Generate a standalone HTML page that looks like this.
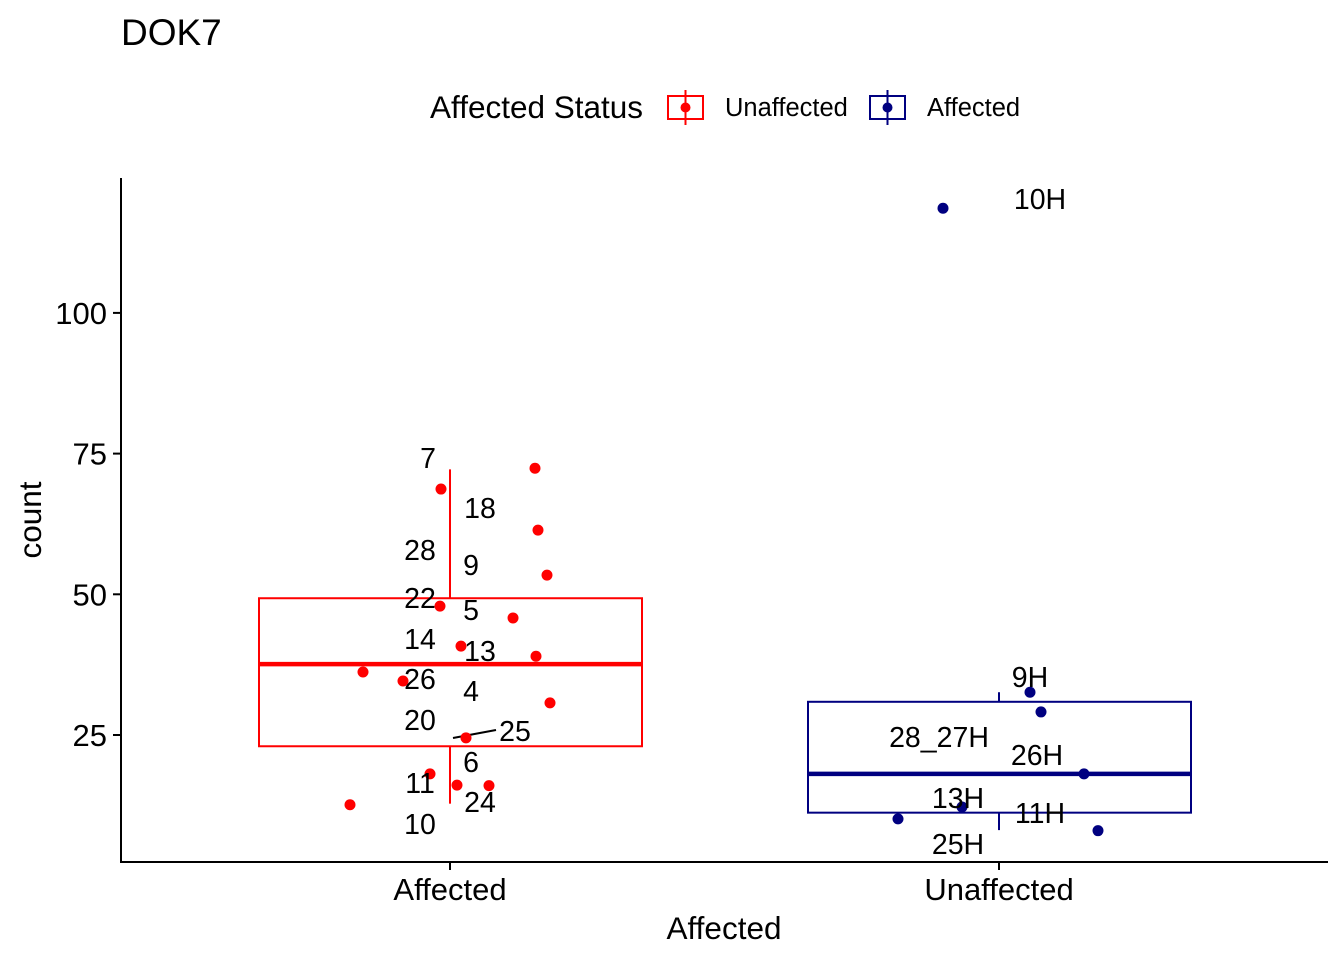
<!DOCTYPE html>
<html><head><meta charset="utf-8"><style>
body{margin:0;background:#fff}
svg{display:block;font-family:"Liberation Sans",Arial,sans-serif}
</style></head><body>
<svg id="c" width="1344" height="960">
<text x="121" y="45" font-size="37">DOK7</text>
<g>
<text x="430" y="118" font-size="31.5">Affected Status</text>
<g>
<rect x="668" y="96" width="35" height="23" fill="none" stroke="#f00" stroke-width="2"/>
<line x1="685.5" y1="90" x2="685.5" y2="125" stroke="#f00" stroke-width="2"/>
<circle cx="685.5" cy="107.5" r="5" fill="#f00"/>
<text x="725" y="116" font-size="25.5">Unaffected</text></g>
<g>
<rect x="870" y="96" width="35" height="23" fill="none" stroke="#000080" stroke-width="2"/>
<line x1="887.5" y1="90" x2="887.5" y2="125" stroke="#000080" stroke-width="2"/>
<circle cx="887.5" cy="107.5" r="5" fill="#000080"/>
<text x="927" y="116" font-size="25.5">Affected</text></g>
</g>
<line x1="121" y1="178" x2="121" y2="862" stroke="#000" stroke-width="2"/>
<line x1="120" y1="862" x2="1328" y2="862" stroke="#000" stroke-width="2"/>
<g id="ticks"></g>
<g id="marks"></g>
<text x="724" y="939" font-size="31.5" text-anchor="middle">Affected</text>
<text transform="translate(41,520) rotate(-90)" font-size="31.5" text-anchor="middle">count</text>
</svg>
<script>
const categories=["Affected","Unaffected"];
const yTicks=[25,50,75,100];
const boxColors=["#ff0000","#000080"];
const q1=[23.0,11.2];
const median=[37.6,18.1];
const q3=[49.3,30.9];
const whiskLo=[12.8,8.1];
const whiskHi=[72.2,32.6];
const redVals=[72.4,68.7,61.4,53.4,47.9,45.8,40.8,39.0,36.2,34.6,30.7,24.5,18.1,16.1,16.0,12.6];
const redJitter=[85,-9,88,97,-10,63,11,86,-87,-47,100,16,-20,7,39,-100];
const navyVals=[118.6,32.6,29.1,18.1,12.2,10.1,8.0];
const navyJitter=[-56,31,42,85,-37,-101,99];
const labels=[["7",428,468],["18",480,518],["28",420,560],["9",471,575],["22",420,608],["5",471,620],["14",420,649],["13",480,661],["26",420,689],["4",471,701],["20",420,730],["25",515,741],["6",471,772],["11",420,793],["24",480,812],["10",420,834],
["10H",1040,209],["9H",1030,687],["28_27H",939,747],["26H",1037,765],["13H",958,808],["11H",1040,823],["25H",958,854]];
const NS="http://www.w3.org/2000/svg";
const yS=v=>875.7-v*5.628;
const xS=i=>450+i*549;
function mk(t,a,p){const e=document.createElementNS(NS,t);for(const k in a)e.setAttribute(k,a[k]);p.appendChild(e);return e;}
const T=document.getElementById('ticks'),M=document.getElementById('marks');
yTicks.forEach(v=>{const y=yS(v);
const l=mk('line',{x1:113,x2:121,y1:y,y2:y,stroke:'#000','stroke-width':2},T);


const t=mk('text',{x:107,y:y+11,'font-size':31,'text-anchor':'end',fill:'#000'},T);t.textContent=v;

});
categories.forEach((c,i)=>{const x=xS(i);
const l=mk('line',{x1:x,x2:x,y1:862,y2:870,stroke:'#000','stroke-width':2},T);


const t=mk('text',{x:x,y:900,'font-size':31,'text-anchor':'middle',fill:'#000'},T);t.textContent=c;


const col=boxColors[i],g=mk('g',{},M);


mk('line',{x1:x,x2:x,y1:yS(whiskHi[i]),y2:yS(q3[i]),stroke:col,'stroke-width':2},g);
mk('line',{x1:x,x2:x,y1:yS(q1[i]),y2:yS(whiskLo[i]),stroke:col,'stroke-width':2},g);
mk('rect',{x:x-191,y:yS(q3[i]),width:383,height:yS(q1[i])-yS(q3[i]),fill:'none',stroke:col,'stroke-width':2},g);
mk('line',{x1:x-191,x2:x+192,y1:yS(median[i]),y2:yS(median[i]),stroke:col,'stroke-width':4.5},g);});
const seg=mk('line',{x1:453,y1:738,x2:496,y2:730,stroke:'#000','stroke-width':2},M);


[[redVals,redJitter,0,'#ff0000'],[navyVals,navyJitter,1,'#000080']].forEach(([vals,jit,i,col])=>{
vals.forEach((v,k)=>{const p=mk('circle',{cx:xS(i)+jit[k],cy:yS(v),r:5.5,fill:col},M);

});});
labels.forEach(([s,x,y])=>{const t=mk('text',{x:x,y:y,'font-size':28.5,'text-anchor':'middle',fill:'#000'},M);t.textContent=s;

});
</script>
</body></html>
